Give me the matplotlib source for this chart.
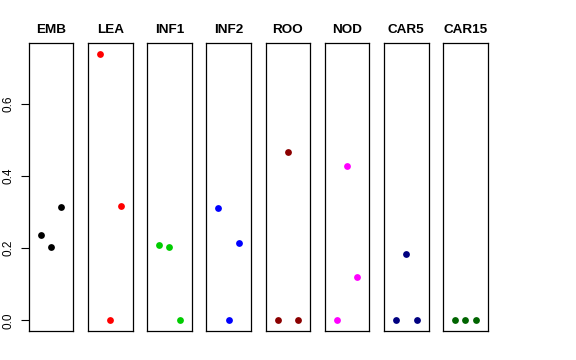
import matplotlib
matplotlib.use("Agg")
import matplotlib.pyplot as plt

plt.rcParams['font.family'] = ['Liberation Sans', 'DejaVu Sans']

# tissues and their colours
tissues = ["EMB", "LEA", "INF1", "INF2", "ROO", "NOD", "CAR5", "CAR15"]
colors = ["black", "#FF0000", "#00CD00", "#0000FF", "#8B0000", "#FF00FF", "#000080", "#006400"]

# three values per tissue
emb = [0.237, 0.203, 0.314]
lea = [0.740, 0.0, 0.318]
inf1 = [0.210, 0.204, 0.0]
inf2 = [0.312, 0.0, 0.214]
roo = [0.0, 0.467, 0.0]
nod = [0.0, 0.429, 0.120]
car5 = [0.0, 0.184, 0.0]
car15 = [0.0, 0.0, 0.0]
values = [emb, lea, inf1, inf2, roo, nod, car5, car15]
xpos = [1, 2, 3]
yticks = [0.0, 0.2, 0.4, 0.6]

W, H = 576, 360
fig = plt.figure(figsize=(W / 100, H / 100), dpi=100)

top, bottom = 43, 331
pw = 44.7
ymax = max(max(v) for v in values)
pad = 0.04 * ymax
for i, (name, col, vals) in enumerate(zip(tissues, colors, values)):
    left = 28.7 + 59.2 * i
    ax = fig.add_axes([left / W, 1 - bottom / H, pw / W, (bottom - top) / H])
    ax.scatter(xpos, vals, s=24, color=col, zorder=3, linewidths=0)
    ax.set_xlim(-0.16, 4.16)
    ax.set_ylim(-pad, ymax + pad)
    ax.set_xticks([])
    ax.set_title(name, fontsize=9.7, fontweight='bold', pad=7)
    for sp in ax.spines.values():
        sp.set_linewidth(0.9)
    if i == 0:
        ax.set_yticks(yticks)
        ax.set_yticklabels(["0.0", "0.2", "0.4", "0.6"], rotation=90, va='center', fontsize=8.5)
        ax.tick_params(axis='y', length=5.5, width=0.8, pad=5)
    else:
        ax.set_yticks([])

fig.savefig("out.png", dpi=100)
